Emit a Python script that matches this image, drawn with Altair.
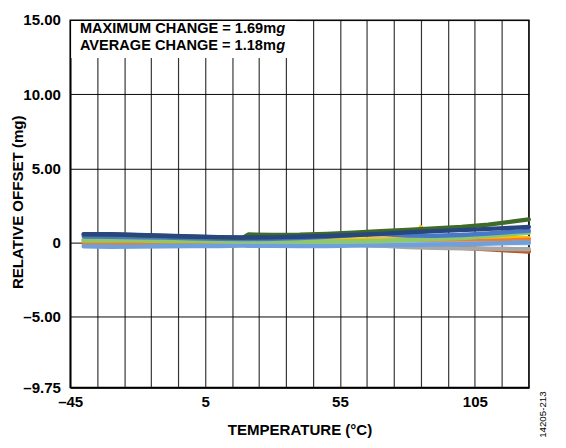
import altair as alt
import pandas as pd

# ---- data ----
TEMPS = [-40, -30, -20, -10, 0, 10, 19, 21, 30, 40, 50, 60, 70, 80, 90, 100, 110, 120, 125]

DARK_BLUE   = [0.58, 0.57, 0.52, 0.47, 0.42, 0.38, 0.35, 0.35, 0.36, 0.40, 0.45, 0.52, 0.60, 0.70, 0.78, 0.85, 0.93, 1.02, 1.06]
DARK_GREEN  = [0.56, 0.55, 0.50, 0.45, 0.40, 0.36, 0.33, 0.55, 0.53, 0.54, 0.60, 0.68, 0.77, 0.87, 0.97, 1.07, 1.22, 1.45, 1.57]
BLUE_MID    = [0.42, 0.40, 0.37, 0.34, 0.30, 0.27, 0.25, 0.25, 0.27, 0.32, 0.40, 0.52, 0.58, 0.48, 0.47, 0.52, 0.62, 0.75, 0.80]
LIGHT_GREEN = [0.15, 0.15, 0.14, 0.12, 0.12, 0.10, 0.10, 0.10, 0.10, 0.08, 0.08, 0.10, 0.12, 0.18, 0.24, 0.32, 0.45, 0.60, 0.66]
BLUE_LIGHT  = [-0.25, -0.27, -0.26, -0.24, -0.22, -0.22, -0.20, -0.20, -0.20, -0.22, -0.22, -0.20, -0.18, -0.15, -0.12, -0.10, -0.05, 0.00, 0.02]
PALE_BLUE   = [0.22, 0.22, 0.20, 0.18, 0.15, 0.12, 0.08, 0.08, 0.04, 0.00, -0.05, -0.08, -0.10, -0.10, -0.08, -0.06, -0.04, -0.02, -0.02]
ORANGE      = [-0.08, -0.08, -0.08, -0.07, -0.07, -0.06, -0.06, -0.06, -0.06, -0.06, -0.06, -0.05, -0.03, 0.00, 0.03, 0.07, 0.12, 0.17, 0.20]
GRAY        = [0.05, 0.05, 0.04, 0.03, 0.02, 0.02, 0.01, 0.01, 0.00, -0.03, -0.06, -0.12, -0.20, -0.30, -0.35, -0.38, -0.40, -0.43, -0.44]
BROWN       = [-0.04, -0.04, -0.04, -0.04, -0.04, -0.04, -0.04, -0.04, -0.06, -0.08, -0.10, -0.13, -0.17, -0.22, -0.28, -0.35, -0.44, -0.55, -0.60]

GOLD_TEMPS = [-40, -10, 20, 50, 80, 83, 85, 87, 100, 125]
GOLD       = [0.20, 0.20, 0.20, 0.20, 0.25, 0.30, 1.05, 0.30, 0.30, 0.30]

X_TICKS = [-45, -35, -25, -15, -5, 5, 15, 25, 35, 45, 55, 65, 75, 85, 95, 105, 115, 125]
Y_TICKS = [-9.75, -5, 0, 5, 10, 15]

NOTE_1 = "MAXIMUM CHANGE = 1.69m"
NOTE_2 = "AVERAGE CHANGE = 1.18m"
NOTE_G = "g"
WATERMARK = "14205-213"

# draw order: bottom -> top
SERIES = [
    ("gold", "#FFC000", GOLD_TEMPS, GOLD),
    ("brown", "#C0561C", TEMPS, BROWN),
    ("gray", "#A8A8A8", TEMPS, GRAY),
    ("orange", "#ED7D31", TEMPS, ORANGE),
    ("paleblue", "#9DC3E6", TEMPS, PALE_BLUE),
    ("bluelight", "#6FA0DC", TEMPS, BLUE_LIGHT),
    ("lightgreen", "#8FC86A", TEMPS, LIGHT_GREEN),
    ("bluemid", "#4A78C8", TEMPS, BLUE_MID),
    ("darkgreen", "#3F6B2A", TEMPS, DARK_GREEN),
    ("darkblue", "#27477E", TEMPS, DARK_BLUE),
]

FONT = "Liberation Sans"
FS = 15.5
W, H = 472, 378

x_scale = alt.Scale(domain=[-45, 125], nice=False, zero=False)
y_scale = alt.Scale(domain=[-9.75, 15], nice=False, zero=False)

x_axis = alt.Axis(
    values=X_TICKS, ticks=False, grid=True, gridColor="#333333", gridWidth=1.2,
    domainColor="black", domainWidth=1.5, labelOverlap=False, labelFlush=False,
    labelExpr="indexof([-45,5,55,105], datum.value) >= 0 ? (datum.value < 0 ? '\u2013' + abs(datum.value) : '' + datum.value) : ''",
    labelPadding=8, titlePadding=13, title="TEMPERATURE (°C)",
)
y_axis = alt.Axis(
    values=Y_TICKS, ticks=False, grid=True, gridColor="black", gridWidth=1.0,
    domainColor="black", domainWidth=1.5, labelOverlap=False, labelFlush=False,
    labelExpr="datum.value == 0 ? '0' : (datum.value < 0 ? '\u2013' + format(abs(datum.value), '.2f') : format(datum.value, '.2f'))",
    labelPadding=10, title="RELATIVE OFFSET (mg)",
    titleX=-54, titleY=H / 2 - 2, titleAngle=270, titleAlign="center", titleBaseline="middle",
)

layers = []
for name, color, temps, vals in SERIES:
    df = pd.DataFrame({"T": temps, "V": vals})
    layers.append(
        alt.Chart(df).mark_line(color=color, strokeWidth=4.5, strokeJoin="round", strokeCap="round").encode(
            x=alt.X("T:Q", scale=x_scale, axis=x_axis),
            y=alt.Y("V:Q", scale=y_scale, axis=y_axis),
        )
    )

one = pd.DataFrame({"a": [0]})
box = alt.Chart(one).mark_rect(color="white").encode(
    x=alt.value(1), x2=alt.value(233), y=alt.value(1), y2=alt.value(39)
)
layers.append(box)

def txt(s, x, y, style="normal", align="left", size=FS, weight="bold", angle=0, baseline="alphabetic"):
    return alt.Chart(pd.DataFrame({"t": [s]})).mark_text(
        font=FONT, fontSize=size, fontWeight=weight, fontStyle=style, align=align,
        baseline=baseline, color="black", angle=angle,
    ).encode(x=alt.value(x), y=alt.value(y), text="t:N")

NFS = 15
n1w = 13.474 * NFS
layers.append(txt(NOTE_1, 10, 13.5, size=NFS))
layers.append(txt(NOTE_G, 10 + n1w, 13.5, style="italic", size=NFS))
layers.append(txt(NOTE_2, 10, 30.5, size=NFS))
layers.append(txt(NOTE_G, 10 + n1w, 30.5, style="italic", size=NFS))
layers.append(txt(WATERMARK, W + 15, H + 28, size=10, weight="normal", angle=270, align="center", baseline="middle"))

chart = alt.layer(*layers).properties(
    width=W, height=H,
    autosize=alt.AutoSizeParams(type="none"),
    padding={"left": 64, "top": 6, "right": 30, "bottom": 60},
).configure(
    background="white"
).configure_view(
    stroke="black", strokeWidth=1.5
).configure_axis(
    labelFont=FONT, labelFontSize=FS, labelFontWeight="bold", labelColor="black",
    titleFont=FONT, titleFontSize=FS, titleFontWeight="bold", titleColor="black",
)

chart.save("out.html", embed_options={"renderer": "svg", "actions": False})
